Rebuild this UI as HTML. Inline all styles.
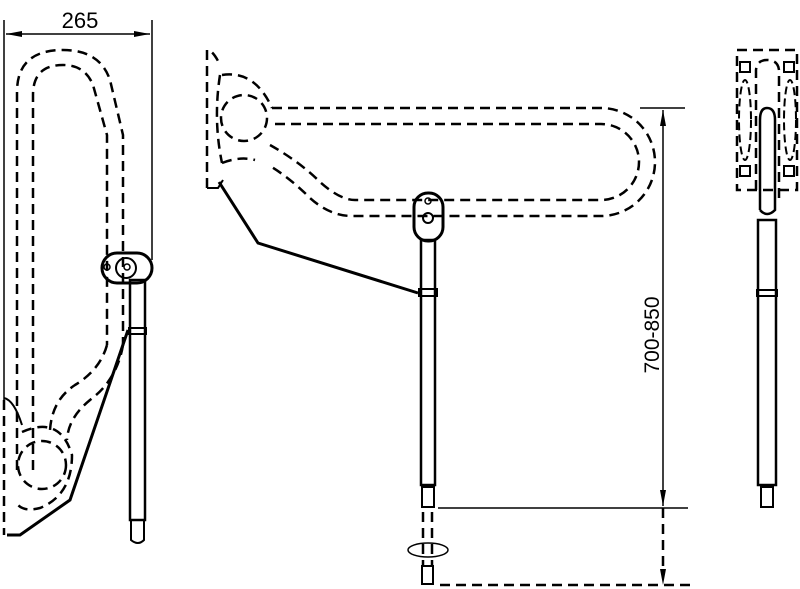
<!DOCTYPE html>
<html><head><style>body{margin:0;background:#fff}svg{display:block}</style></head><body>
<svg width="800" height="589" viewBox="0 0 800 589" xmlns="http://www.w3.org/2000/svg" font-family="Liberation Sans, sans-serif">
<defs>
<marker id="a" viewBox="0 0 16 6" refX="16" refY="3" markerWidth="16" markerHeight="6" orient="auto-start-reverse" markerUnits="userSpaceOnUse"><path d="M0,0L16,3L0,6z" fill="#000"/></marker>
</defs>
<g fill="none" stroke="#000">
<!-- LEFT VIEW -->
<line x1="4" y1="20" x2="4" y2="400" stroke-width="1.5"/>
<line x1="152" y1="20" x2="152" y2="260" stroke-width="1.5"/>
<line x1="6" y1="34" x2="150" y2="34" stroke-width="1.5" marker-start="url(#a)" marker-end="url(#a)"/>
<g stroke-width="2.5" stroke-dasharray="10,6">
<path d="M17,470 V92 Q17,50 63,50 Q100,50 110,80 L123,135 V345"/>
<path d="M33,470 V95 Q33,65 63,65 Q85,65 93,85 L107,135 V345"/>
<path d="M107,345 Q100,370 75,385 Q52,400 50,430"/>
<path d="M123,345 Q117,380 90,400 Q68,418 67,440"/>
<circle cx="42" cy="465" r="24"/>
<path d="M22,432 Q60,415 72,455 Q72,495 40,508 Q25,512 18,505"/>
<line x1="4" y1="400" x2="4" y2="535"/>
</g>
<path d="M4,398 Q14,400 22,425" stroke-width="2"/>
<path d="M7,535 L20,535 L70,500 L128,330" stroke-width="3"/>
<rect x="130" y="280" width="15" height="240" stroke-width="2.5"/>
<rect x="129" y="328" width="17" height="6" stroke-width="2"/>
<path d="M131,520 h13 v20 q-6,6 -13,0z" stroke-width="2"/>
<rect x="102" y="253" width="50" height="30" rx="15" stroke-width="3"/>
<circle cx="126" cy="268" r="10" stroke-width="2"/>
<circle cx="127" cy="267" r="3" stroke-width="1.5"/>
<circle cx="107" cy="267" r="3" stroke-width="1.5"/>

<!-- MIDDLE VIEW -->
<g stroke-width="2.5" stroke-dasharray="10,6">
<path d="M207,188 V50 Q213,50 220,65"/>
<path d="M222,75 Q255,70 272,108"/>
<circle cx="244" cy="118" r="23"/>
<path d="M272,108 H601 A54,54 0 0 1 601,216 H352 Q330,216 310,198 Q290,178 270,166"/>
<path d="M275,124 H601 A38,38 0 0 1 601,200 H355 Q340,200 320,182 Q300,162 270,145"/>
<path d="M222,163 Q240,156 255,160"/>
<path d="M220,75 Q213,120 222,163"/>
<line x1="423" y1="512" x2="423" y2="565"/>
<line x1="432" y1="512" x2="432" y2="565"/>
<line x1="440" y1="585" x2="690" y2="585"/>
<line x1="663" y1="508" x2="663" y2="575"/>
</g>
<path d="M207,188 H218 L223,180" stroke-width="2"/>
<path d="M219,182 L258,243 L418,293" stroke-width="3"/>
<rect x="421" y="240" width="14" height="245" stroke-width="2.5"/>
<rect x="419" y="289" width="18" height="7" stroke-width="2"/>
<path d="M422,487 h12 v20 h-12z" stroke-width="2"/>
<path d="M422,566 h11 v18 h-11z" stroke-width="2"/>
<ellipse cx="428" cy="550" rx="20" ry="7" stroke-width="1.5"/>
<rect x="414" y="193" width="29" height="48" rx="14" stroke-width="3"/>
<circle cx="428" cy="218" r="5" stroke-width="2"/>
<circle cx="428" cy="201" r="3" stroke-width="1.5"/>
<line x1="640" y1="108" x2="685" y2="108" stroke-width="1.5"/>
<line x1="438" y1="508" x2="688" y2="508" stroke-width="1.5"/>
<line x1="663" y1="110" x2="663" y2="506" stroke-width="1.5" marker-start="url(#a)" marker-end="url(#a)"/>
<path d="M660,569 L663,585 L666,569z" fill="#000" stroke="none"/>

<!-- RIGHT VIEW -->
<rect x="737" y="50" width="60" height="140" stroke-width="2.5" stroke-dasharray="10,6"/>
<rect x="740" y="62" width="10" height="10" stroke-width="2"/>
<rect x="784" y="62" width="10" height="10" stroke-width="2"/>
<rect x="740" y="166" width="10" height="10" stroke-width="2"/>
<rect x="784" y="166" width="10" height="10" stroke-width="2"/>
<ellipse cx="745" cy="120" rx="6" ry="40" stroke-width="2" stroke-dasharray="8,4"/>
<ellipse cx="790" cy="120" rx="6" ry="40" stroke-width="2" stroke-dasharray="8,4"/>
<path d="M756,190 V70 Q757,60 767,60 Q778,60 779,70 V200" stroke-width="2.5" stroke-dasharray="10,6"/>
<path d="M760,210 V120 Q760,108 767,108 Q775,108 775,120 V210 Q767,218 760,210" stroke-width="2.5"/>
<rect x="758" y="220" width="18" height="265" stroke-width="2.5"/>
<rect x="757" y="290" width="20" height="6" stroke-width="2"/>
<path d="M761,487 h12 v20 h-12z" stroke-width="2"/>
</g>
<text x="80" y="28" font-size="22" text-anchor="middle">265</text>
<text transform="translate(659,335) rotate(-90)" font-size="21" text-anchor="middle">700-850</text>
</svg>
</body></html>
